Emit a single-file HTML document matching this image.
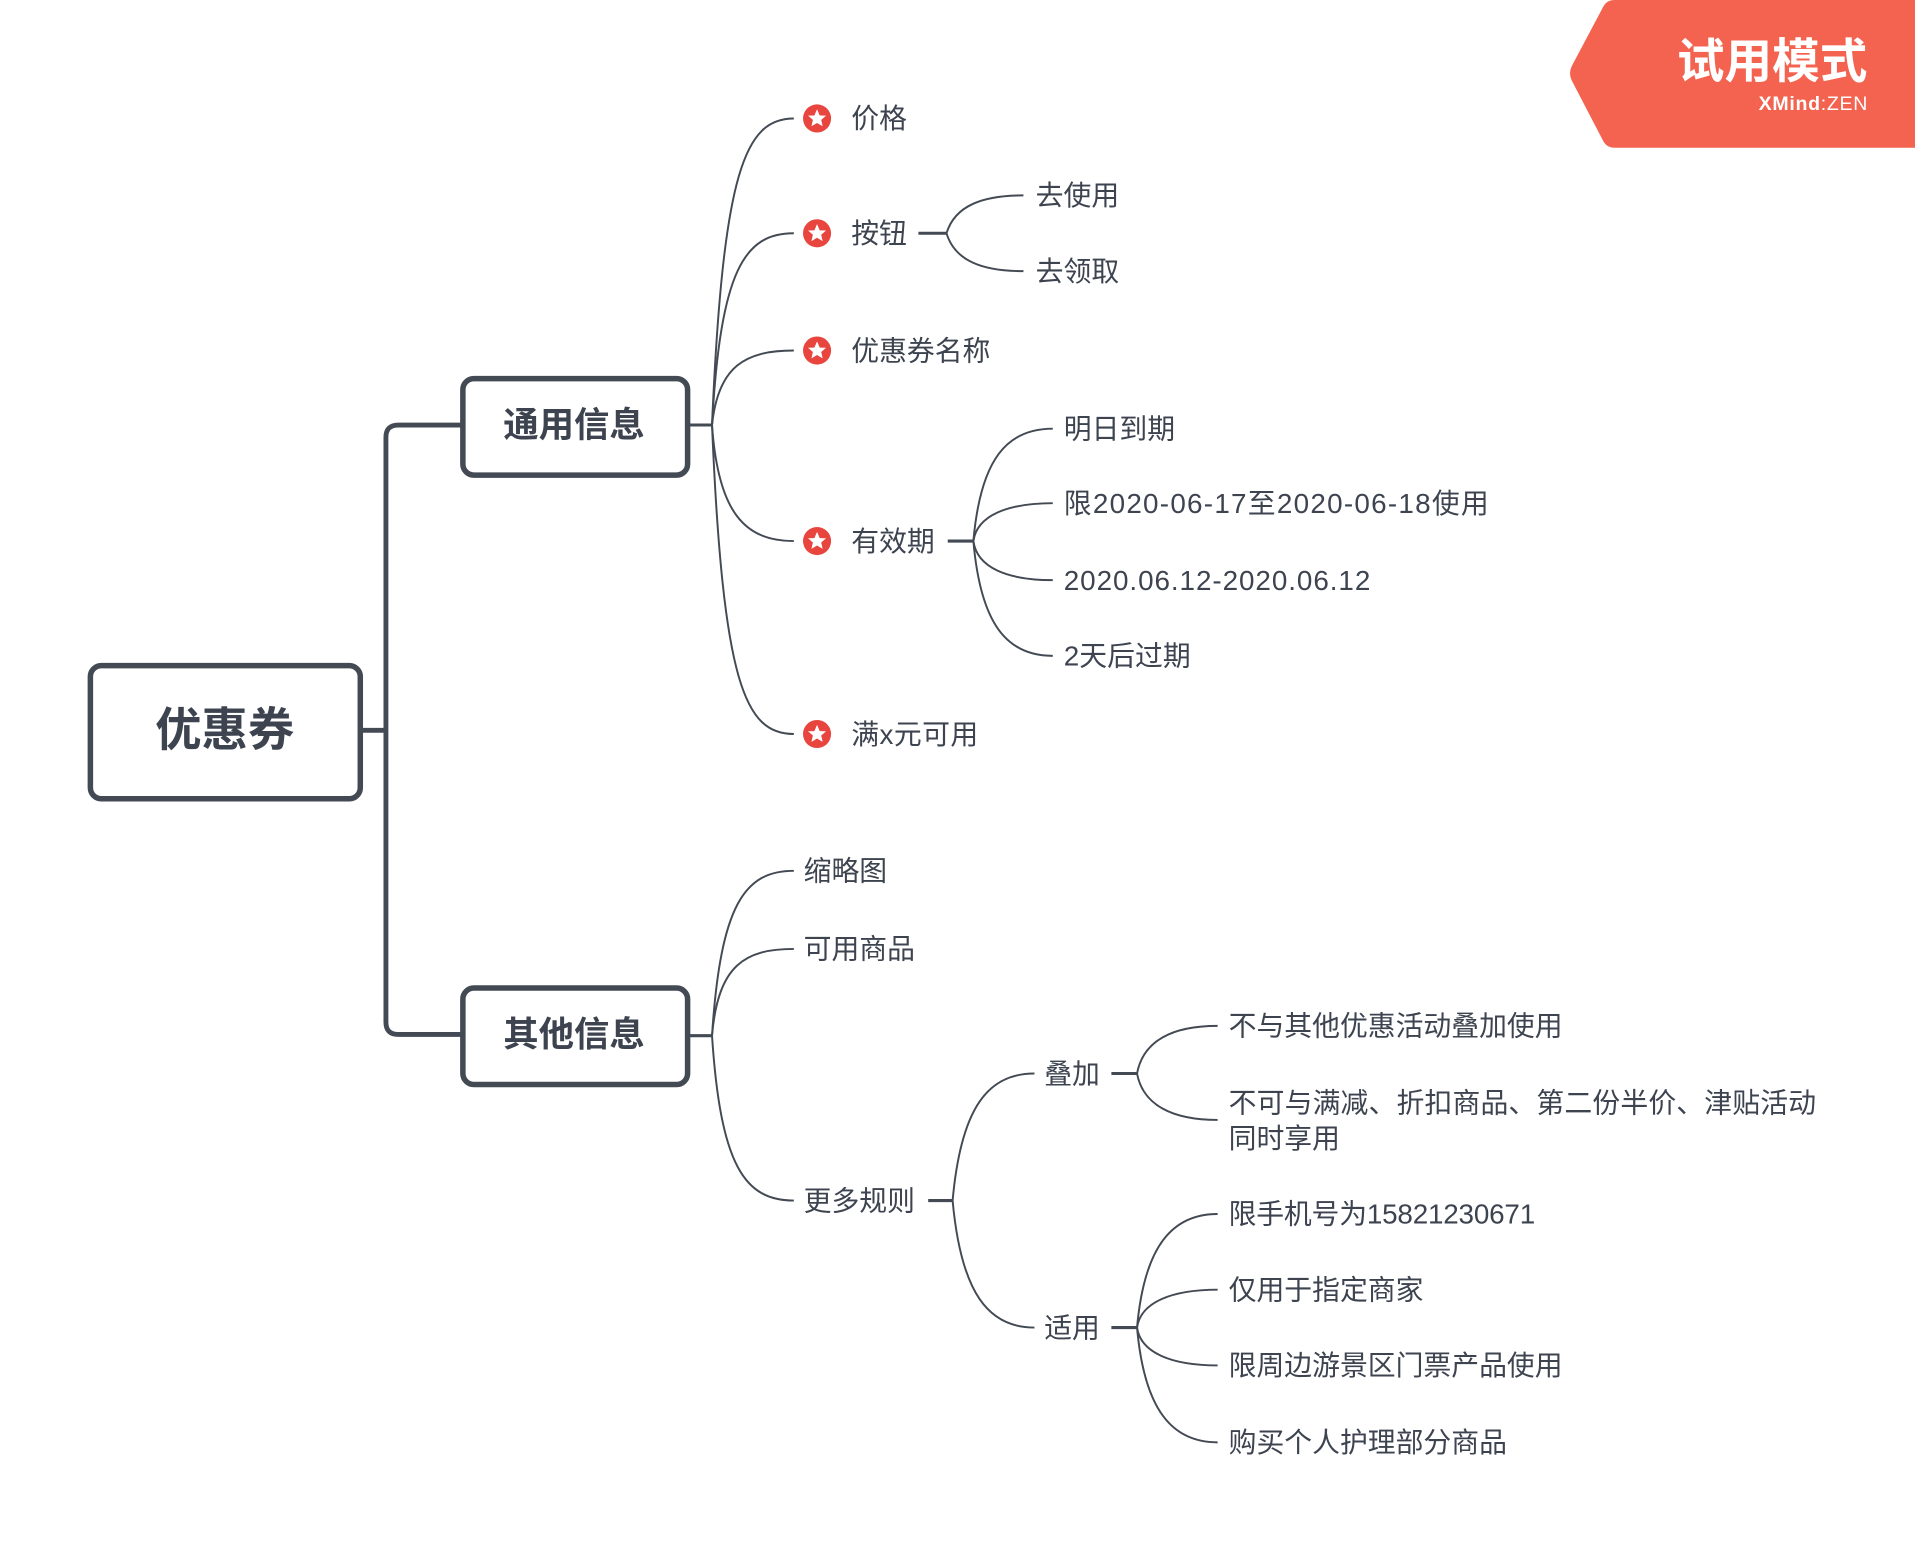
<!DOCTYPE html>
<html><head><meta charset="utf-8"><style>
html,body{margin:0;padding:0;background:#fff;}
svg{display:block;}
text{font-family:"Liberation Sans","Noto Sans CJK SC",sans-serif;fill:#3d4450;}
</style></head><body>
<svg width="1915" height="1559" viewBox="0 0 1568 1276.5" xmlns="http://www.w3.org/2000/svg">
<defs>
<g id="st"><circle r="11.5" fill="#e8453e"/><polygon fill="#fff" points="0,-7.5 2.2,-2.4 7.4,-2.3 3.4,1.2 4.6,6.4 0,3.7 -4.6,6.4 -3.4,1.2 -7.4,-2.3 -2.2,-2.4"/></g>
</defs>
<path d="M1322,0 L1568,0 L1568,121 L1322,121 Q1316,121 1313,116 L1287,66 Q1284,60 1287,54 L1313,5 Q1316,0 1322,0 Z" fill="#f4634f"/>
<text x="1529" y="64" text-anchor="end" font-size="39" font-weight="bold" style="fill:#fff">试用模式</text>
<text x="1529" y="90" text-anchor="end" font-size="16" textLength="89" style="fill:#fff"><tspan font-weight="bold">XMind</tspan>:ZEN</text>

<g fill="none" stroke="#434a54">
<path d="M295,598 L316,598 M379,348 L326,348 Q316,348 316,358 L316,837 Q316,847 326,847 L379,847" stroke-width="4"/>
<rect x="74" y="545" width="221" height="109" rx="9" stroke-width="4.5"/>
<rect x="379" y="310" width="184" height="79" rx="9" stroke-width="4.5"/>
<rect x="379" y="809" width="184" height="79" rx="9" stroke-width="4.5"/>
<path d="M563,348 L583,348 M563,848 L583,848" stroke-width="2.5"/>
<g stroke-width="1.6">
<path d="M583,348 C592,140 610,97 650,97"/>
<path d="M583,348 C590,220 610,191 650,191"/>
<path d="M583,348 C588,300 610,287 650,287"/>
<path d="M583,348 C588,420 610,443 650,443"/>
<path d="M583,348 C592,560 610,601 650,601"/>
<path d="M775,191 C782,168 805,160 838,160"/>
<path d="M775,191 C782,214 805,222 838,222"/>
<path d="M797,443 C803,375 825,351 862,351"/>
<path d="M797,443 C800,422 825,412 862,412"/>
<path d="M797,443 C800,465 825,475 862,475"/>
<path d="M797,443 C803,512 825,537 862,537"/>
<path d="M583,848 C590,740 610,713 650,713"/>
<path d="M583,848 C588,790 610,777 650,777"/>
<path d="M583,848 C590,955 610,983 650,983"/>
<path d="M780,983 C787,905 810,879 847,879"/>
<path d="M780,983 C787,1060 810,1087 847,1087"/>
<path d="M931,879 C936,852 960,840 997,840"/>
<path d="M931,879 C936,905 960,917 997,917"/>
<path d="M931,1087 C937,1020 960,994 997,994"/>
<path d="M931,1087 C934,1066 960,1056 997,1056"/>
<path d="M931,1087 C934,1108 960,1118 997,1118"/>
<path d="M931,1087 C937,1155 960,1181 997,1181"/>
</g>
<path d="M752,191 L775,191 M776,443 L797,443 M760,983 L780,983 M910,879 L931,879 M910,1087 L931,1087" stroke-width="2.5"/>
</g>

<text x="184" y="611" text-anchor="middle" font-size="38" font-weight="bold">优惠券</text>
<text x="470" y="358" text-anchor="middle" font-size="29" font-weight="bold">通用信息</text>
<text x="470" y="857" text-anchor="middle" font-size="29" font-weight="bold">其他信息</text>

<use href="#st" x="669" y="97"/><use href="#st" x="669" y="191"/><use href="#st" x="669" y="287"/><use href="#st" x="669" y="443"/><use href="#st" x="669" y="601"/>
<g font-size="22.8">
<text x="697" y="105">价格</text>
<text x="697" y="199">按钮</text>
<text x="697" y="295">优惠券名称</text>
<text x="697" y="451">有效期</text>
<text x="697" y="609" textLength="104">满x元可用</text>
<text x="848" y="168">去使用</text>
<text x="848" y="230">去领取</text>
<text x="871" y="359">明日到期</text>
<text x="871" y="420" textLength="348">限2020-06-17至2020-06-18使用</text>
<text x="871" y="483" textLength="251">2020.06.12-2020.06.12</text>
<text x="871" y="545" textLength="104">2天后过期</text>
<text x="658" y="721">缩略图</text>
<text x="658" y="785">可用商品</text>
<text x="658" y="991">更多规则</text>
<text x="855" y="887">叠加</text>
<text x="855" y="1095">适用</text>
<text x="1006" y="848">不与其他优惠活动叠加使用</text>
<text x="1006" y="911" textLength="481">不可与满减、折扣商品、第二份半价、津贴活动</text>
<text x="1006" y="940">同时享用</text>
<text x="1006" y="1002" textLength="251">限手机号为15821230671</text>
<text x="1006" y="1064">仅用于指定商家</text>
<text x="1006" y="1126">限周边游景区门票产品使用</text>
<text x="1006" y="1189">购买个人护理部分商品</text>
</g>
</svg>
</body></html>
